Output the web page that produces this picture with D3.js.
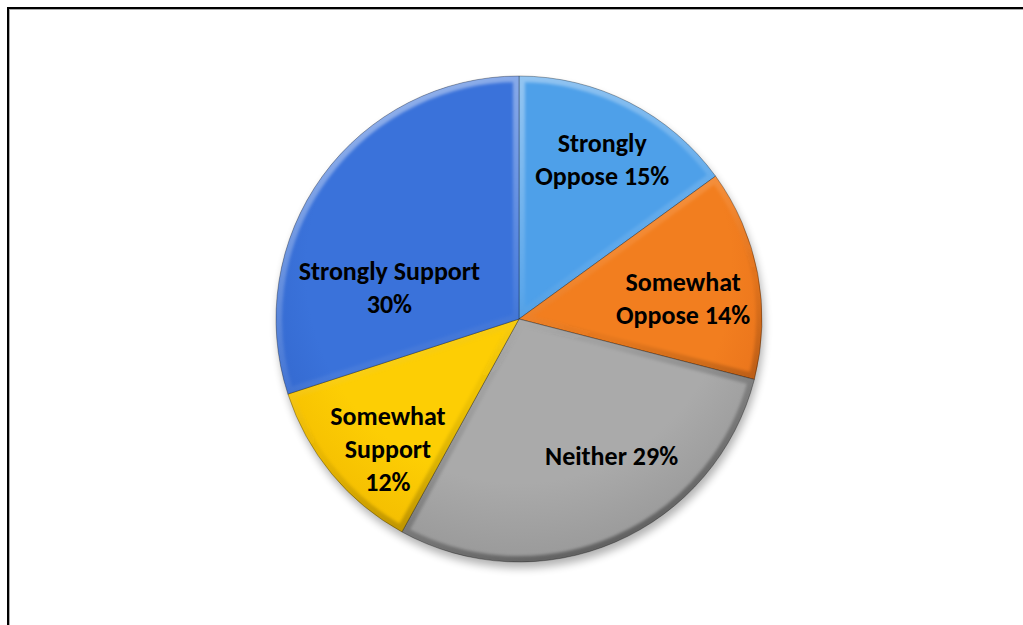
<!DOCTYPE html>
<html><head><meta charset="utf-8">
<script src="https://cdn.jsdelivr.net/npm/d3@7"></script>
<style>html,body{margin:0;padding:0;background:#fff;overflow:hidden}</style>
</head><body>
<svg id="chart" width="1023" height="625"></svg>
<script>
// ---- data ----
const categories = ["Strongly Oppose", "Somewhat Oppose", "Neither", "Somewhat Support", "Strongly Support"];
const values = [15, 14, 29, 12, 30];
const colors = ["#4ea0e9", "#f27e1f", "#aaaaaa", "#fdce04", "#3a72da"];
const darkColors = ["#418dd6", "#e36c19", "#979797", "#f2ba00", "#3063c8"];

// ---- layout ----
const W = 1023, H = 625;
const cx = 519, cy = 319, R = 243;
const labelRadius = 0.7 * R;
const labelWrap = [145, 145, 170, 105, 200];
const labelNudge = [[6, -8], [-3, 11], [25, -19], [0, 21], [8, 68]];
const lineH = 33;

const svg = d3.select("#chart");
const defs = svg.append("defs");

// frame
svg.append("rect").attr("x", 9).attr("y", 9).attr("width", 1040).attr("height", 700)
  .attr("fill", "none").attr("stroke", "#aaa").attr("stroke-width", 2);
svg.append("rect").attr("x", 8).attr("y", 8).attr("width", 1040).attr("height", 700)
  .attr("fill", "none").attr("stroke", "#000").attr("stroke-width", 2);

// filters
const sh = defs.append("filter").attr("id", "shadow").attr("x", "-20%").attr("y", "-20%").attr("width", "140%").attr("height", "140%");
sh.append("feGaussianBlur").attr("stdDeviation", 4);
const bl = defs.append("filter").attr("id", "blur").attr("x", "-20%").attr("y", "-20%").attr("width", "140%").attr("height", "140%");
bl.append("feGaussianBlur").attr("stdDeviation", 1.5);

// bevel gradient (light at top, dark at bottom) — in the translated (pie-centred) space
const bev = defs.append("linearGradient").attr("id", "bevel")
  .attr("gradientUnits", "userSpaceOnUse").attr("x1", -R * 0.4).attr("y1", -R).attr("x2", R * 0.4).attr("y2", R);
bev.append("stop").attr("offset", "0%").attr("stop-color", "#fff").attr("stop-opacity", 0.45);
bev.append("stop").attr("offset", "45%").attr("stop-color", "#fff").attr("stop-opacity", 0.08);
bev.append("stop").attr("offset", "60%").attr("stop-color", "#000").attr("stop-opacity", 0.05);
bev.append("stop").attr("offset", "100%").attr("stop-color", "#000").attr("stop-opacity", 0.4);

const pie = d3.pie().sort(null).value(d => d)(values);
const arc = d3.arc().innerRadius(0).outerRadius(R);
const labelArc = d3.arc().innerRadius(labelRadius).outerRadius(labelRadius);

// per-slice radial gradient
pie.forEach((p, i) => {
  const g = defs.append("radialGradient").attr("id", "g" + i)
    .attr("gradientUnits", "userSpaceOnUse").attr("cx", 0).attr("cy", -R * 0.2).attr("r", R * 1.25);
  g.append("stop").attr("offset", "0%").attr("stop-color", colors[i]);
  g.append("stop").attr("offset", "70%").attr("stop-color", colors[i]);
  g.append("stop").attr("offset", "100%").attr("stop-color", darkColors[i]);
  defs.append("clipPath").attr("id", "c" + i).append("path").attr("d", arc(p));
});

// drop shadow
svg.append("circle").attr("cx", cx + 2).attr("cy", cy + 6).attr("r", R)
  .attr("fill", "#000").attr("opacity", 0.3).attr("filter", "url(#shadow)");

const slices = svg.append("g").attr("transform", `translate(${cx},${cy})`)
  .selectAll("g").data(pie).join("g");
slices.append("path")
  .attr("d", arc)
  .attr("fill", (d, i) => `url(#g${i})`);
// bevel: inner stroke clipped to slice
slices.append("g").attr("clip-path", (d, i) => `url(#c${i})`)
  .append("path")
  .attr("d", arc)
  .attr("fill", "none")
  .attr("stroke", "url(#bevel)")
  .attr("stroke-width", 12)
  .attr("stroke-linejoin", "round")
  .attr("filter", "url(#blur)");
// thin edge lines
slices.append("path")
  .attr("d", arc)
  .attr("fill", "none")
  .attr("stroke", "#000").attr("stroke-opacity", 0.3).attr("stroke-width", 1);

// labels
const ctx = document.createElement("canvas").getContext("2d");
const font = "bold 26px Carlito, Calibri, Lato, 'Open Sans', sans-serif";
ctx.font = font;
function wrap(text, maxW) {
  const words = text.split(" ");
  const lines = [];
  let cur = "";
  words.forEach(w => {
    const t = cur ? cur + " " + w : w;
    if (cur && ctx.measureText(t).width > maxW) { lines.push(cur); cur = w; } else cur = t;
  });
  if (cur) lines.push(cur);
  return lines;
}
const labels = svg.append("g").style("font", font).attr("fill", "#000").attr("text-anchor", "middle");
pie.forEach((p, i) => {
  const [x, y] = labelArc.centroid(p);
  const lx = cx + x + labelNudge[i][0], ly = cy + y + labelNudge[i][1];
  const lines = wrap(`${categories[i]} ${values[i]}%`, labelWrap[i]);
  const t = labels.append("text").attr("x", lx).attr("y", ly - (lines.length - 1) * lineH / 2);
  lines.forEach((ln, k) => t.append("tspan").attr("x", lx).attr("dy", k === 0 ? "0.35em" : lineH).text(ln));
});
</script>
</body></html>
